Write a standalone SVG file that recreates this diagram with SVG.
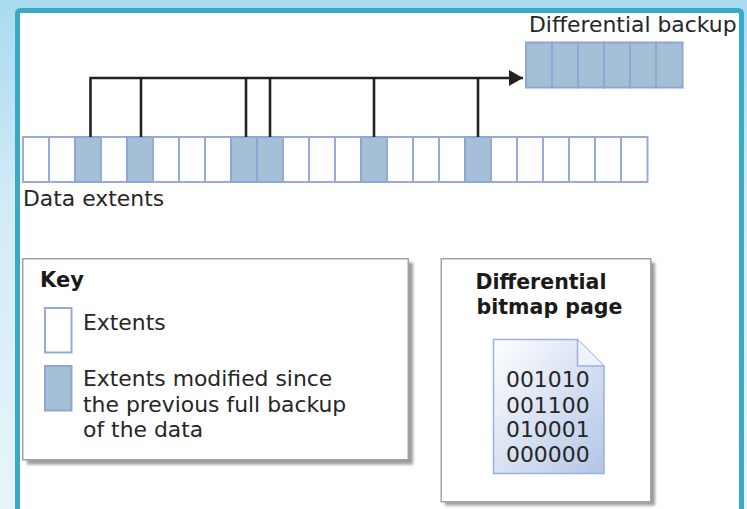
<svg xmlns="http://www.w3.org/2000/svg" width="747" height="509" viewBox="0 0 747 509">
  <style>
    .t { font-family: "DejaVu Sans", Verdana, sans-serif; font-size: 21.9px; fill: #262626; }
    .b { font-family: "DejaVu Sans", Verdana, sans-serif; font-weight: bold; fill: #1a1a1a; }
    .cell { fill: #ffffff; stroke: #97abd9; stroke-width: 2; }
    .mod { fill: #a5bfd6; stroke: #8ea6d6; stroke-width: 2; }
    .panel { fill: #ffffff; stroke: #a3a3a3; stroke-width: 1.5; }
    .conn { fill: none; stroke: #222222; stroke-width: 2.6; }
  </style>
  <defs>
    <linearGradient id="bg" x1="0" y1="0" x2="0" y2="1">
      <stop offset="0" stop-color="#a9daf0"/>
      <stop offset="0.4" stop-color="#d3ebf6"/>
      <stop offset="1" stop-color="#e8f4fa"/>
    </linearGradient>
    <linearGradient id="doc" x1="0" y1="0" x2="1" y2="1">
      <stop offset="0" stop-color="#ffffff"/>
      <stop offset="1" stop-color="#b3c5e6"/>
    </linearGradient>
    <filter id="sh" x="-10%" y="-10%" width="130%" height="130%">
      <feGaussianBlur stdDeviation="1.5"/>
    </filter>
    <marker id="arr" viewBox="0 0 14 16" refX="14" refY="8" markerWidth="14" markerHeight="16" markerUnits="userSpaceOnUse" orient="auto">
      <path d="M0 0 L14 8 L0 16 Z" fill="#222222"/>
    </marker>
  </defs>

  <rect x="0" y="0" width="747" height="509" fill="url(#bg)"/>
  <rect id="frame" x="17.5" y="10.5" width="724" height="520" rx="3" fill="#ffffff" stroke="#3aaac4" stroke-width="5"/>

  <g id="differential-backup">
    <text class="t" x="529" y="32">Differential backup</text>
    <rect class="mod" x="526" y="42.5" width="26" height="45"/>
    <rect class="mod" x="552" y="42.5" width="26" height="45"/>
    <rect class="mod" x="578" y="42.5" width="26" height="45"/>
    <rect class="mod" x="604" y="42.5" width="26" height="45"/>
    <rect class="mod" x="630" y="42.5" width="26" height="45"/>
    <rect class="mod" x="656" y="42.5" width="26.5" height="45"/>
  </g>

  <g id="data-extents">
    <rect class="cell" x="23" y="137" width="26" height="45"/>
    <rect class="cell" x="49" y="137" width="26" height="45"/>
    <rect class="mod" x="75" y="137" width="26" height="45"/>
    <rect class="cell" x="101" y="137" width="26" height="45"/>
    <rect class="mod" x="127" y="137" width="26" height="45"/>
    <rect class="cell" x="153" y="137" width="26" height="45"/>
    <rect class="cell" x="179" y="137" width="26" height="45"/>
    <rect class="cell" x="205" y="137" width="26" height="45"/>
    <rect class="mod" x="231" y="137" width="26" height="45"/>
    <rect class="mod" x="257" y="137" width="26" height="45"/>
    <rect class="cell" x="283" y="137" width="26" height="45"/>
    <rect class="cell" x="309" y="137" width="26" height="45"/>
    <rect class="cell" x="335" y="137" width="26" height="45"/>
    <rect class="mod" x="361" y="137" width="26" height="45"/>
    <rect class="cell" x="387" y="137" width="26" height="45"/>
    <rect class="cell" x="413" y="137" width="26" height="45"/>
    <rect class="cell" x="439" y="137" width="26" height="45"/>
    <rect class="mod" x="465" y="137" width="26" height="45"/>
    <rect class="cell" x="491" y="137" width="26" height="45"/>
    <rect class="cell" x="517" y="137" width="26" height="45"/>
    <rect class="cell" x="543" y="137" width="26" height="45"/>
    <rect class="cell" x="569" y="137" width="26" height="45"/>
    <rect class="cell" x="595" y="137" width="26" height="45"/>
    <rect class="cell" x="621" y="137" width="26.5" height="45"/>
    <text class="t" x="23" y="206">Data extents</text>
  </g>

  <g id="connectors">
    <path class="conn" d="M90.5 137 V78 H523" marker-end="url(#arr)"/>
    <path class="conn" d="M141 137 V78"/>
    <path class="conn" d="M246 137 V78"/>
    <path class="conn" d="M270 137 V78"/>
    <path class="conn" d="M374 137 V78"/>
    <path class="conn" d="M478 137 V78"/>
  </g>

  <g id="key">
    <rect x="27" y="262.5" width="386" height="202" fill="#9c9c9c" filter="url(#sh)"/>
    <rect class="panel" x="22.75" y="258.75" width="385.5" height="201"/>
    <text class="b" x="40" y="287" font-size="21">Key</text>
    <rect class="cell" x="45" y="308" width="26.5" height="44.5"/>
    <text class="t" x="83" y="329.5">Extents</text>
    <rect class="mod" x="45" y="366" width="26.5" height="44.5"/>
    <text class="t" x="83" y="386">Extents modified since</text>
    <text class="t" x="83" y="412">the previous full backup</text>
    <text class="t" x="83" y="437">of the data</text>
  </g>

  <g id="bitmap-page">
    <rect x="445" y="262.5" width="210" height="243" fill="#9c9c9c" filter="url(#sh)"/>
    <rect class="panel" x="441.25" y="258.75" width="209.5" height="243"/>
    <text class="b" x="475.5" y="288.5" font-size="20.5" textLength="131" lengthAdjust="spacingAndGlyphs">Differential</text>
    <text class="b" x="476.5" y="313.5" font-size="20.5" textLength="146" lengthAdjust="spacingAndGlyphs">bitmap page</text>
    <path d="M493.5 339.5 H577.5 L604 366 V473.5 H493.5 Z" fill="url(#doc)" stroke="#9ab0de" stroke-width="1.5"/>
    <path d="M577.5 339.5 V366 H604" fill="#eef2fa" stroke="#9ab0de" stroke-width="1.5"/>
    <text class="t" x="506" y="387">001010</text>
    <text class="t" x="506" y="412.5">001100</text>
    <text class="t" x="506" y="437">010001</text>
    <text class="t" x="506" y="462">000000</text>
  </g>
</svg>
